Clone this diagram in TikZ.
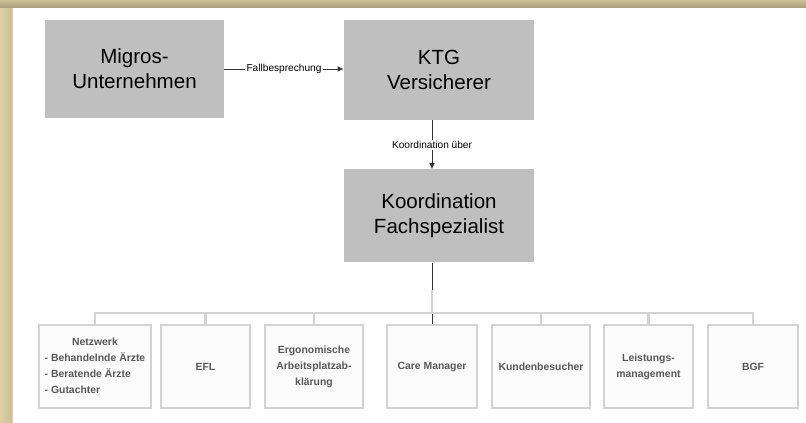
\documentclass[tikz,border=0pt]{standalone}
\usepackage{fontspec}
\setmainfont{Liberation Sans}
\usetikzlibrary{calc, arrows.meta}

\definecolor{boxgray}{HTML}{BFBFBF}
\definecolor{unitline}{HTML}{D3D3D3}
\definecolor{unittext}{HTML}{585858}
\definecolor{beigelight}{HTML}{DCD0A4}
\definecolor{beigemid}{HTML}{CBBF98}
\definecolor{beigedark}{HTML}{A99C7A}

\begin{document}
\begin{tikzpicture}[
    x=0.75pt, y=-0.75pt,
    bigbox/.style={
      fill=boxgray,
      text=black,
      align=center,
      inner sep=0pt,
      font=\fontsize{15.4}{18.8}\selectfont
    },
    unit/.style={
      draw=unitline,
      line width=1.5pt,
      fill=gray!3,
      text=unittext,
      align=center,
      inner sep=0pt,
      minimum height=62.25pt,
      font=\fontsize{7.8}{12}\selectfont\bfseries
    },
    flow/.style={draw=black!80, line width=0.6pt},
    tag/.style={fill=white, inner sep=1pt, font=\fontsize{7.6}{9}\selectfont},
    bus/.style={draw=unitline, line width=1.6pt}
  ]
    \useasboundingbox (0,0) rectangle (806,423);
    % frame
    \fill[white] (0,0) rectangle (806,423);
    \shade[left color=beigelight, right color=beigemid] (0,0) rectangle (12,423);
    \shade[top color=beigemid, bottom color=beigedark] (0,0) rectangle (806,8);
    \draw[gray!35, line width=0.5pt] (12,8) -- (12,423);

    % upper boxes
    \node[bigbox, minimum width=134.25pt, minimum height=73.5pt] (migros) at (134.5,69) {Migros-\\Unternehmen};
    \node[bigbox, minimum width=142.5pt, minimum height=75pt] (ktg) at (439,70) {KTG\\Versicherer};
    \node[bigbox, minimum width=142.5pt, minimum height=69.75pt] (koord) at (439,216) {Koordination\\Fachspezialist};

    % lower row
    \node[unit, minimum width=84pt] (netz) at (95,366.5) {%
      \begin{tabular}{@{}l@{}}
        \multicolumn{1}{@{}c@{}}{Netzwerk}\\
        - Behandelnde Ärzte\\
        - Beratende Ärzte\\
        - Gutachter
      \end{tabular}};
    \node[unit, minimum width=66.75pt] (efl) at (205.5,366.5) {EFL};
    \node[unit, minimum width=73.5pt] (ergo) at (314,366.5) {Ergonomische\\Arbeitsplatzab-\\klärung};
    \node[unit, minimum width=67.5pt] (care) at (432,366.5) {Care Manager};
    \node[unit, minimum width=73.5pt] (kunden) at (541,366.5) {Kundenbesucher};
    \node[unit, minimum width=66.75pt] (leist) at (648.5,366.5) {Leistungs-\\management};
    \node[unit, minimum width=67.5pt] (bgf) at (753,366.5) {BGF};

    % connectors
    \draw[flow, -{Latex[length=4.5pt, width=4pt]}] (migros.east) -- node[tag]{Fallbesprechung} (migros.east -| ktg.west);
    \draw[flow, -{Latex[length=4.5pt, width=4pt]}] (care.north |- ktg.south) -- node[tag]{Koordination über} (care.north |- koord.north);
    \draw[flow] (care.north |- koord.south) -- (care.north);

    \coordinate (bar) at (432,313);
    \draw[bus] (netz.north) |- (bar) -| (bgf.north);
    \foreach \u in {efl, ergo, kunden, leist}
      \draw[bus] (\u.north) -- (\u.north |- bar);
    \draw[bus] (bar) -- ++(0,-23);
  \end{tikzpicture}
\end{document}
